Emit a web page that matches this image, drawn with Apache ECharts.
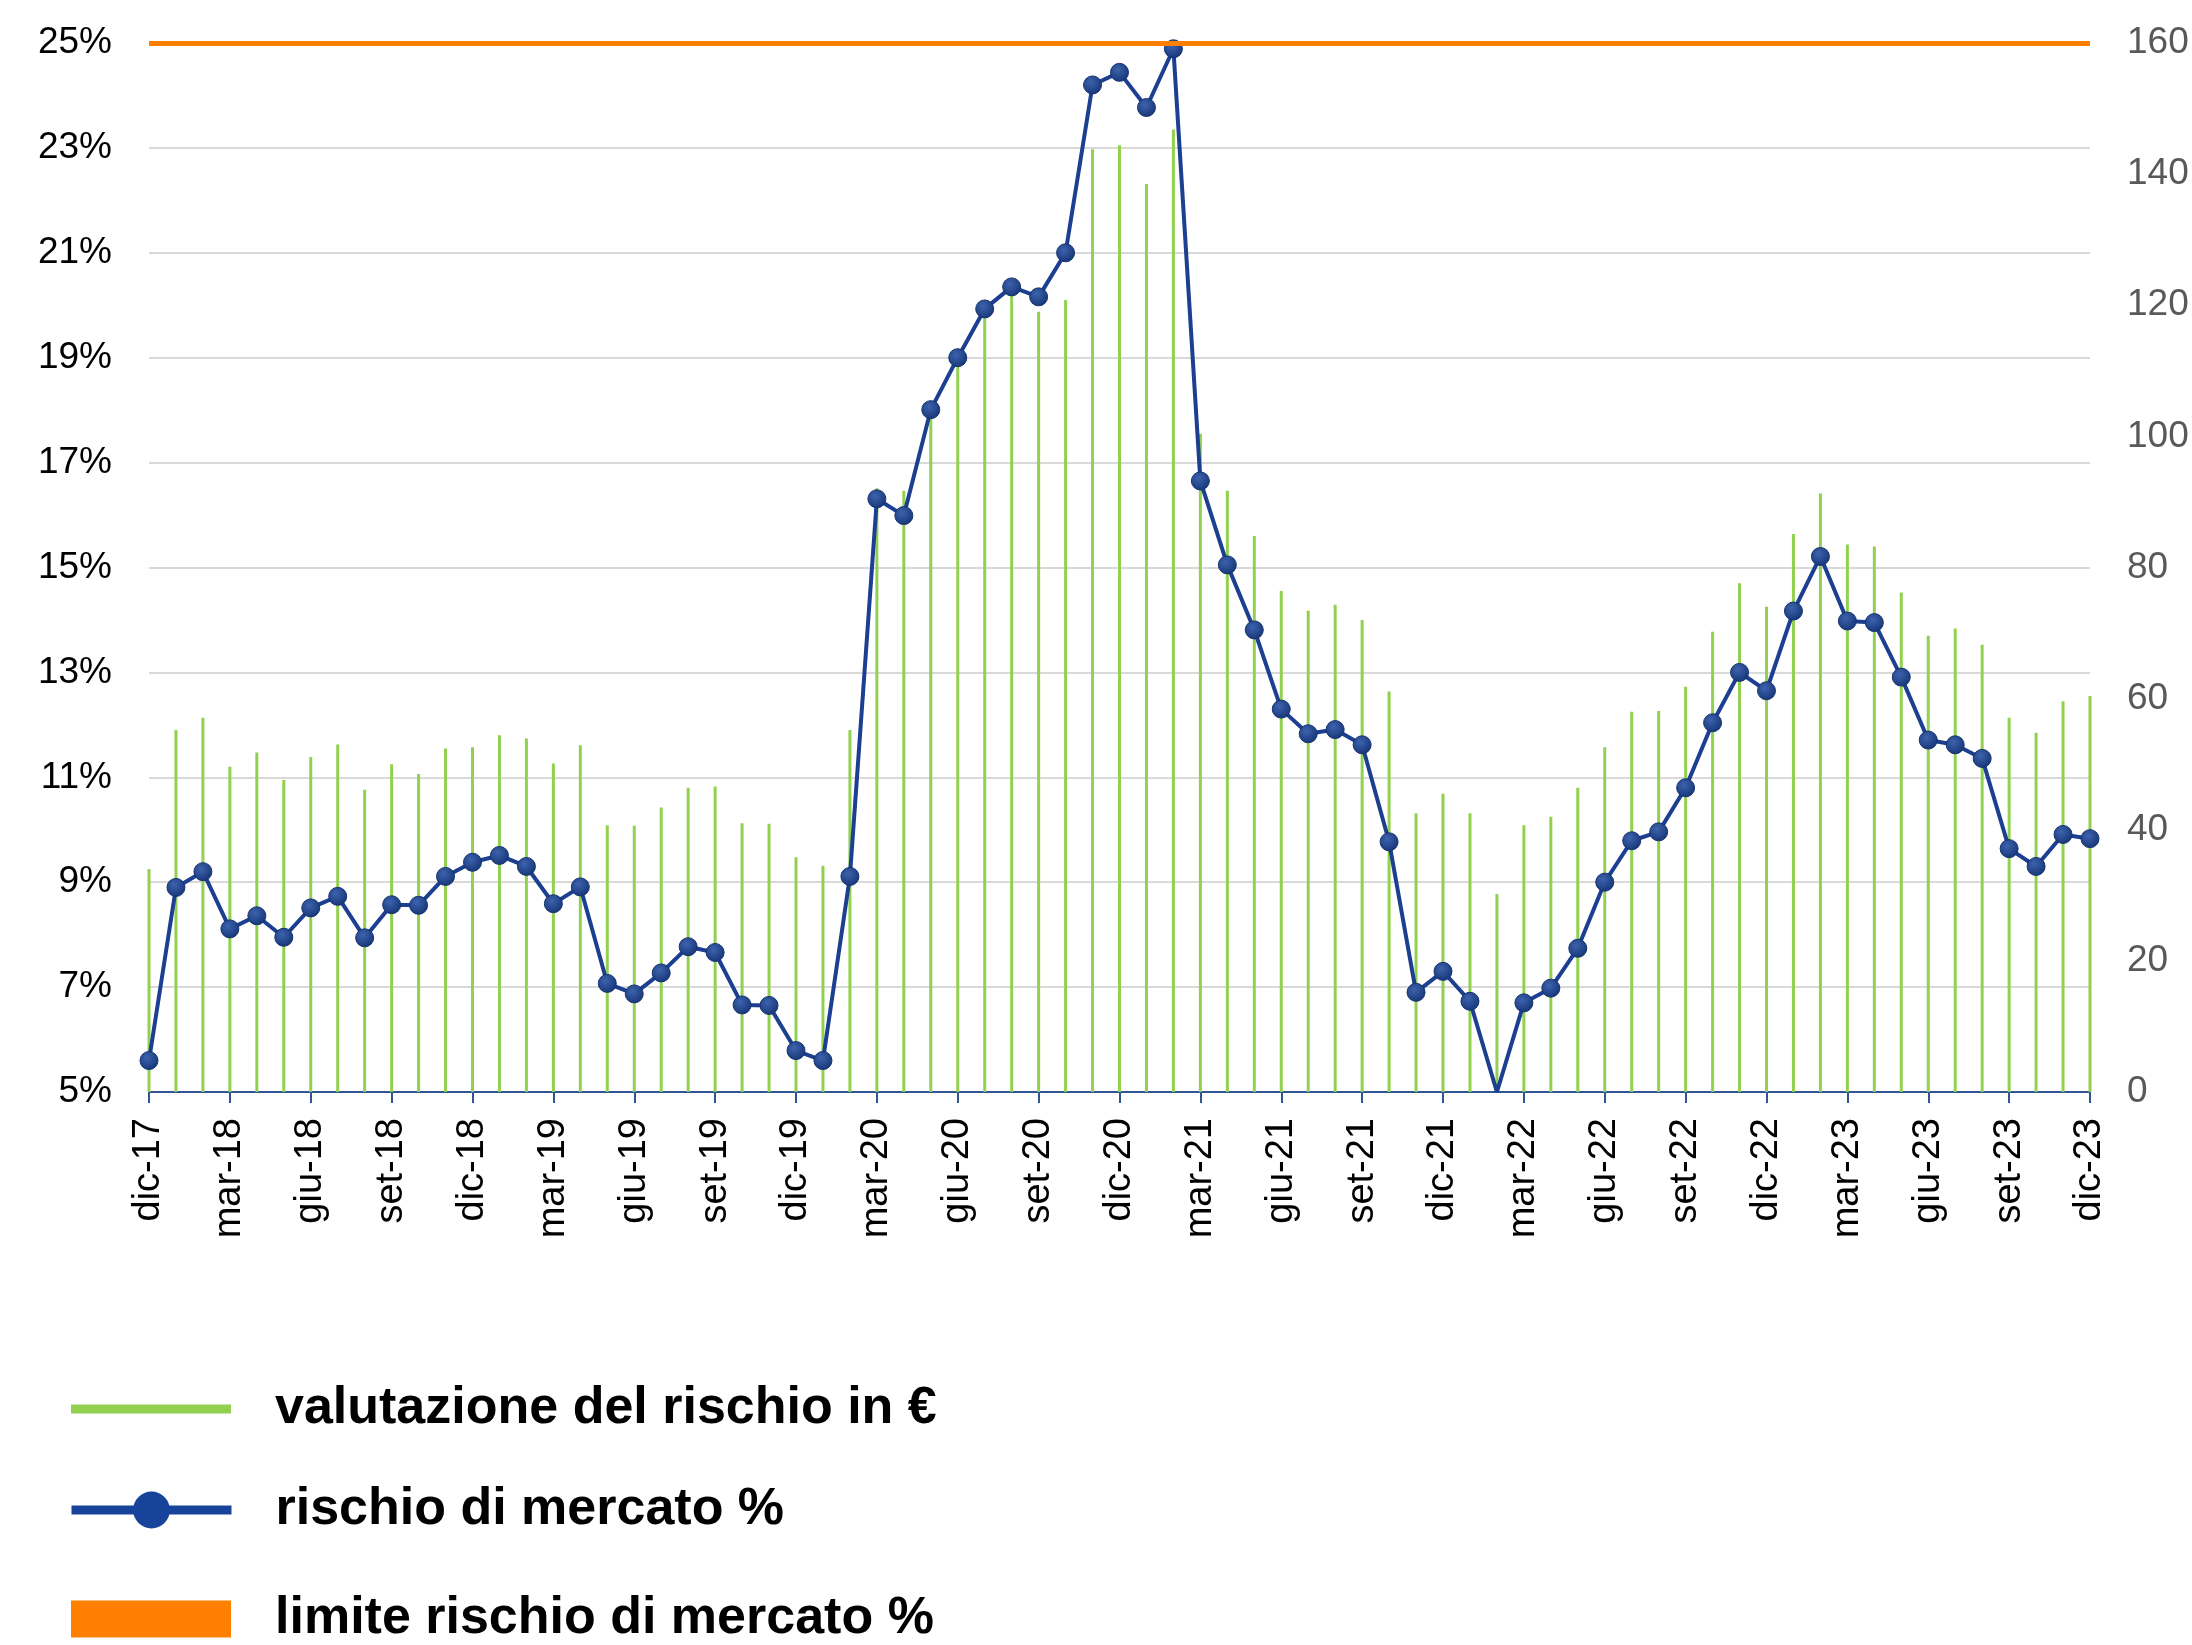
<!DOCTYPE html>
<html>
<head>
<meta charset="utf-8">
<title>rischio di mercato</title>
<script src="https://cdn.jsdelivr.net/npm/echarts@6/dist/echarts.min.js"></script>
<style>
    html, body { margin: 0; padding: 0; background: #fff; }
    #chartMain { width: 2192px; height: 1645px; }
</style>
</head>
<body>
<div id="chartMain"></div>
<script>
var mesi = ['dic-17',
    'gen-18','feb-18','mar-18','apr-18','mag-18','giu-18','lug-18','ago-18','set-18','ott-18','nov-18','dic-18',
    'gen-19','feb-19','mar-19','apr-19','mag-19','giu-19','lug-19','ago-19','set-19','ott-19','nov-19','dic-19',
    'gen-20','feb-20','mar-20','apr-20','mag-20','giu-20','lug-20','ago-20','set-20','ott-20','nov-20','dic-20',
    'gen-21','feb-21','mar-21','apr-21','mag-21','giu-21','lug-21','ago-21','set-21','ott-21','nov-21','dic-21',
    'gen-22','feb-22','mar-22','apr-22','mag-22','giu-22','lug-22','ago-22','set-22','ott-22','nov-22','dic-22',
    'gen-23','feb-23','mar-23','apr-23','mag-23','giu-23','lug-23','ago-23','set-23','ott-23','nov-23','dic-23'];

// valutazione del rischio in € (asse destro)
var valutazione = [34.0, 55.2, 57.1, 49.6, 51.8, 47.6, 51.1, 53.0, 46.1, 50.0, 48.5, 52.4, 52.6,
    54.4, 53.9, 50.1, 52.9, 40.7, 40.6, 43.4, 46.4, 46.6, 41.0, 40.9, 35.8,
    34.5, 55.2, 92.1, 91.7, 103.2, 110.8, 118.4, 121.6, 119.0, 120.8, 143.8, 144.4,
    138.5, 146.8, 100.4, 91.7, 84.8, 76.4, 73.4, 74.3, 72.0, 61.1, 42.5, 45.5,
    42.5, 30.2, 40.7, 42.0, 46.4, 52.6, 58.0, 58.1, 61.8, 70.2, 77.6, 74.0,
    85.1, 91.3, 83.5, 83.2, 76.2, 69.6, 70.7, 68.2, 57.1, 54.8, 59.6, 60.4];

// rischio di mercato % (asse sinistro)
var rischio = [5.60, 8.90, 9.20, 8.11, 8.36, 7.95, 8.51, 8.73, 7.94, 8.57, 8.56, 9.11, 9.38,
    9.51, 9.30, 8.59, 8.91, 7.07, 6.87, 7.27, 7.77, 7.66, 6.66, 6.65, 5.79,
    5.60, 9.11, 16.31, 15.99, 18.01, 19.00, 19.93, 20.35, 20.16, 21.00, 24.20, 24.44,
    23.77, 24.89, 16.65, 15.05, 13.81, 12.30, 11.83, 11.91, 11.62, 9.77, 6.90, 7.30,
    6.73, 5.00, 6.70, 6.98, 7.74, 9.00, 9.79, 9.96, 10.80, 12.04, 13.00, 12.65,
    14.17, 15.21, 13.98, 13.95, 12.91, 11.71, 11.62, 11.36, 9.64, 9.30, 9.91, 9.83];

var limite = 25;
var puntoSenzaMarker = 50; // feb-22: la linea tocca l'asse senza marker

var nomi = ['valutazione del rischio in €', 'rischio di mercato %', 'limite rischio di mercato %'];

var main = {
    init : function(){
        var myChart = echarts.init(document.getElementById('chartMain'), null, {renderer: 'canvas'});
        myChart.setOption(main.get_option());
    },
    legend_item : function(name, left, top, w, h, extra){
        var lg = {
            data: [name],
            left: left,
            top: top,
            padding: 0,
            itemWidth: w,
            itemHeight: h,
            selectedMode: false,
            textStyle: {
                fontFamily: 'Liberation Sans',
                fontWeight: 'bold',
                fontSize: 52,
                lineHeight: 60,
                color: '#000',
                padding: [0, 0, 0, 39]
            }
        };
        for (var k in extra) { lg[k] = extra[k]; }
        return lg;
    },
    get_option : function(){
        var lineData = rischio.map(function(v, i){
            if (i == puntoSenzaMarker) {
                return {value: v, symbol: 'none'};
            }
            return v;
        });
        var markerColor = new echarts.graphic.RadialGradient(0.4, 0.35, 0.65, [
            {offset: 0, color: '#3d63ad'},
            {offset: 1, color: '#18377a'}
        ]);
        var labelFont = 'Liberation Sans';
        return {
            animation: false,
            backgroundColor: '#fff',
            grid: { left: 149, right: 102, top: 43, bottom: 553, containLabel: false },
            legend: [
                main.legend_item(nomi[0], 71, 1379, 160, 9, { icon: 'rect' }),
                main.legend_item(nomi[1], 67, 1480, 160, 46, {
                    itemStyle: { color: '#17449a', borderWidth: 0 },
                    lineStyle: { width: 9, color: '#17449a' }
                }),
                main.legend_item(nomi[2], 71, 1589, 160, 37, { icon: 'rect' })
            ],
            xAxis: {
                type: 'category',
                data: mesi,
                boundaryGap: false,
                axisLine: { show: true, lineStyle: { color: '#2f5597', width: 2 } },
                axisTick: { show: true, interval: 2, length: 11, lineStyle: { color: '#2f5597', width: 2 } },
                axisLabel: {
                    interval: 2,
                    rotate: 90,
                    margin: 26,
                    fontFamily: labelFont,
                    fontSize: 38,
                    color: '#000'
                },
                splitLine: { show: false }
            },
            yAxis: [
                {
                    type: 'value',
                    min: 5,
                    max: 25,
                    interval: 2,
                    position: 'left',
                    axisLine: { show: false },
                    axisTick: { show: false },
                    axisLabel: {
                        formatter: '{value}%',
                        margin: 37,
                        fontFamily: labelFont,
                        fontSize: 37,
                        color: '#000'
                    },
                    splitLine: { show: true, lineStyle: { color: '#d9d9d9', width: 2 } }
                },
                {
                    type: 'value',
                    min: 0,
                    max: 160,
                    interval: 20,
                    position: 'right',
                    axisLine: { show: false },
                    axisTick: { show: false },
                    axisLabel: {
                        margin: 37,
                        fontFamily: labelFont,
                        fontSize: 37,
                        color: '#595959'
                    },
                    splitLine: { show: false }
                }
            ],
            series: [
                {
                    name: nomi[0],
                    type: 'bar',
                    yAxisIndex: 1,
                    data: valutazione,
                    barWidth: 3,
                    itemStyle: { color: '#92d050' },
                    z: 1
                },
                {
                    name: nomi[1],
                    type: 'line',
                    yAxisIndex: 0,
                    data: lineData,
                    symbol: 'circle',
                    symbolSize: 18,
                    showAllSymbol: true,
                    lineStyle: { color: '#1c3f91', width: 4 },
                    itemStyle: { color: markerColor, borderColor: '#16346f', borderWidth: 1 },
                    z: 3
                },
                {
                    name: nomi[2],
                    type: 'line',
                    yAxisIndex: 0,
                    data: [],
                    itemStyle: { color: '#ff7f00' },
                    lineStyle: { color: '#ff7f00' },
                    markLine: {
                        silent: true,
                        symbol: 'none',
                        label: { show: false },
                        lineStyle: { color: '#ff7f00', width: 5, type: 'solid' },
                        data: [{ yAxis: limite }]
                    },
                    z: 4
                }
            ]
        };
    }
};
main.init();
</script>
</body>
</html>
